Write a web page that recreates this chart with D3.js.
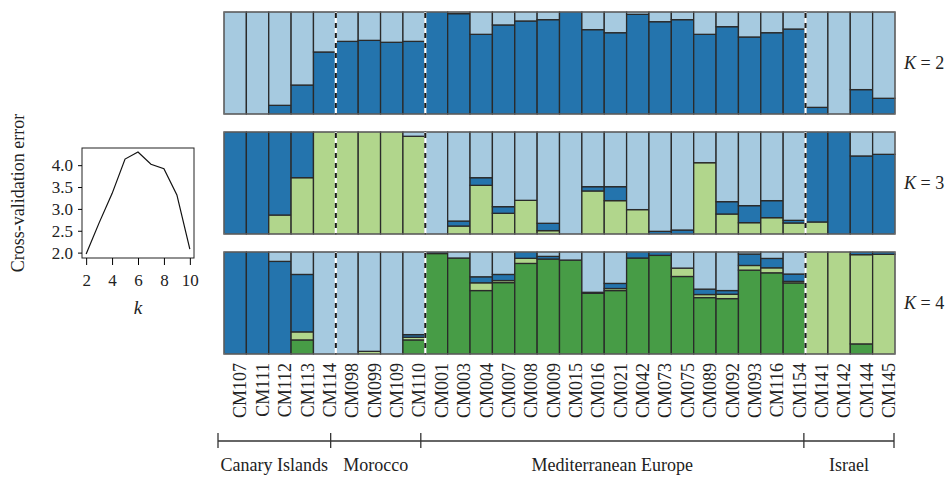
<!DOCTYPE html>
<html>
<head>
<meta charset="utf-8">
<script src="https://cdn.jsdelivr.net/npm/d3@7"></script>
<style>
  body { margin: 0; background: #fff; }
  svg { display: block; font-family: "Liberation Serif", "DejaVu Serif", serif; }
</style>
</head>
<body>
<div id="chart"></div>
<script>
// samples and populations
const samples = ["CM107", "CM111", "CM112", "CM113", "CM114", "CM098", "CM099", "CM109", "CM110",
  "CM001", "CM003", "CM004", "CM007", "CM008", "CM009", "CM015", "CM016", "CM021", "CM042",
  "CM073", "CM075", "CM089", "CM092", "CM093", "CM116", "CM154", "CM141", "CM142", "CM144", "CM145"]
const groups = ["Canary Islands", "Morocco", "Mediterranean Europe", "Israel"]
const groupSizes = [5, 4, 17, 4]

// K = 2 ancestry (bottom -> top)
const k2Blue = [0, 0, 0.085, 0.284, 0.608, 0.712, 0.722, 0.703, 0.712, 1.0, 0.984, 0.781, 0.873, 0.912, 0.925,
  1.0, 0.827, 0.797, 0.977, 0.905, 0.925, 0.781, 0.856, 0.755, 0.797, 0.833, 0.065, 0, 0.239, 0.154]
const k2Light = [1, 1, 0.915, 0.716, 0.392, 0.288, 0.278, 0.297, 0.288, 0, 0.016, 0.219, 0.127, 0.088, 0.075,
  0, 0.173, 0.203, 0.023, 0.095, 0.075, 0.219, 0.144, 0.245, 0.203, 0.167, 0.935, 1, 0.761, 0.846]

// K = 3
const k3Green = [0, 0, 0.186, 0.552, 1, 1, 1, 1, 0.958, 0, 0.078, 0.477, 0.203, 0.330, 0.033,
  0, 0.422, 0.327, 0.239, 0, 0, 0.699, 0.196, 0.111, 0.160, 0.108, 0.118, 0, 0, 0]
const k3Blue = [1, 1, 0.814, 0.448, 0, 0, 0, 0, 0, 0, 0.049, 0.075, 0.065, 0, 0.072,
  0, 0.042, 0.137, 0, 0.026, 0.039, 0, 0.121, 0.167, 0.167, 0.026, 0.882, 1, 0.765, 0.781]
const k3Light = [0, 0, 0, 0, 0, 0, 0, 0, 0.042, 1, 0.873, 0.448, 0.732, 0.670, 0.895,
  1, 0.536, 0.536, 0.761, 0.974, 0.961, 0.301, 0.683, 0.722, 0.673, 0.866, 0, 0, 0.235, 0.219]

// K = 4
const k4DarkGreen = [0, 0, 0, 0.138, 0, 0, 0, 0, 0.138, 0.985, 0.941, 0.622, 0.70, 0.888, 0.931,
  0.921, 0.595, 0.622, 0.941, 0.967, 0.76, 0.553, 0.543, 0.822, 0.796, 0.697, 0, 0, 0.099, 0]
const k4Green = [0, 0, 0, 0.079, 0, 0, 0.026, 0, 0.026, 0, 0, 0.076, 0.02, 0.05, 0,
  0, 0, 0.02, 0, 0, 0.082, 0.03, 0.043, 0.046, 0.049, 0.015, 1, 1, 0.875, 0.977]
const k4Blue = [1, 1, 0.908, 0.563, 0, 0, 0, 0, 0.026, 0.015, 0, 0.059, 0.06, 0.062, 0.026,
  0, 0.01, 0.05, 0.059, 0.033, 0, 0.053, 0.036, 0.112, 0.092, 0.072, 0, 0, 0.026, 0.023]
const k4Light = [0, 0, 0.092, 0.22, 1, 1, 0.974, 1, 0.81, 0, 0.059, 0.243, 0.22, 0, 0.043,
  0.079, 0.395, 0.308, 0, 0, 0.158, 0.364, 0.378, 0.02, 0.063, 0.216, 0, 0, 0, 0]

// cross-validation error
const kValues = [2, 3, 4, 5, 6, 7, 8, 9, 10]
const cvError = [1.97, 2.68, 3.35, 4.14, 4.30, 4.02, 3.92, 3.32, 2.08]
const cvXTicks = [2, 4, 6, 8, 10]
const cvYTicks = [2.0, 2.5, 3.0, 3.5, 4.0]

const colLightBlue = "#a6cae0"
const colBlue = "#2474ad"
const colGreen = "#b1d68c"
const colDarkGreen = "#479c46"

const panels = [
  { label: "2", series: [k2Blue, k2Light], colors: [colBlue, colLightBlue] },
  { label: "3", series: [k3Green, k3Blue, k3Light], colors: [colGreen, colBlue, colLightBlue] },
  { label: "4", series: [k4DarkGreen, k4Green, k4Blue, k4Light], colors: [colDarkGreen, colGreen, colBlue, colLightBlue] }
]

const width = 948
const height = 477
const panelTops = [12, 132, 252]
const panelH = 102

const svg = d3.select("#chart").append("svg")
  .attr("width", width)
  .attr("height", height)

const x = d3.scaleBand()
  .domain(samples)
  .range([224, 895])
  .padding(0)

// group boundaries (bar index)
const bounds = [0]
groupSizes.forEach(s => bounds.push(bounds[bounds.length - 1] + s))

panels.forEach((p, pi) => {
  const top = panelTops[pi]
  const y = d3.scaleLinear().domain([0, 1]).range([top + panelH, top])
  const g = svg.append("g")

  samples.forEach((s, i) => {
    let acc = 0
    p.series.forEach((ser, si) => {
      const v = ser[i]
      if (v <= 0) return
      g.append("rect")
        .attr("x", x(s))
        .attr("y", y(acc + v))
        .attr("width", x.bandwidth())
        .attr("height", y(acc) - y(acc + v))
        .attr("fill", p.colors[si])
        .attr("stroke", "#2a2a2a")
        .attr("stroke-width", 1.3)
      acc += v
    })
  })

  // dashed separators between populations
  bounds.slice(1, -1).forEach(b => {
    const bx = x(samples[b])
    g.append("line")
      .attr("x1", bx).attr("x2", bx)
      .attr("y1", y(1)).attr("y2", y(0))
      .attr("stroke", "#fff")
      .attr("stroke-width", 2.2)
    g.append("line")
      .attr("x1", bx).attr("x2", bx)
      .attr("y1", y(1) + 1).attr("y2", y(0))
      .attr("stroke", "#1a1a1a")
      .attr("stroke-width", 2)
      .attr("stroke-dasharray", "5,5")
  })

  // frame
  g.append("rect")
    .attr("x", x.range()[0])
    .attr("y", y(1))
    .attr("width", x.range()[1] - x.range()[0])
    .attr("height", y(0) - y(1))
    .attr("fill", "none")
    .attr("stroke", "#8a8a8a")
    .attr("stroke-width", 0.8)

  const lab = svg.append("text")
    .attr("x", 904)
    .attr("y", top + panelH / 2)
    .attr("dy", "0.35em")
    .attr("font-size", "18px")
    .attr("fill", "#222")
  lab.append("tspan").attr("font-style", "italic").text("K")
  lab.append("tspan").text(" = " + p.label)
})

// sample labels
const sampleAxis = svg.append("g")
  .attr("transform", `translate(0,${panelTops[2] + panelH})`)
  .call(d3.axisBottom(x).tickSize(0))
sampleAxis.select(".domain").remove()
sampleAxis.selectAll("text")
  .attr("transform", "rotate(-90)")
  .attr("text-anchor", "end")
  .attr("x", -9)
  .attr("y", 5)
  .attr("dy", "0.35em")
  .attr("font-size", "18px")
  .attr("font-family", "Liberation Serif, serif")
  .attr("fill", "#222")

// population bracket
const bx = d3.scaleLinear().domain([0, samples.length]).range([218, 894])
const bracketY = 441
svg.append("line")
  .attr("x1", bx(0)).attr("x2", bx(samples.length))
  .attr("y1", bracketY).attr("y2", bracketY)
  .attr("stroke", "#333").attr("stroke-width", 1.3)
bounds.forEach(b => {
  svg.append("line")
    .attr("x1", bx(b)).attr("x2", bx(b))
    .attr("y1", bracketY - 8).attr("y2", bracketY + 7)
    .attr("stroke", "#333").attr("stroke-width", 1.3)
})
groups.forEach((name, i) => {
  svg.append("text")
    .attr("x", (bx(bounds[i]) + bx(bounds[i + 1])) / 2)
    .attr("y", 471)
    .attr("text-anchor", "middle")
    .attr("font-size", "18px")
    .attr("fill", "#222")
    .text(name)
})

// cross-validation error plot
const cx = d3.scaleLinear().domain([1.68, 10.32]).range([82, 194])
const cy = d3.scaleLinear().domain([1.877, 4.393]).range([258, 148])

const cvG = svg.append("g")

cvG.append("path")
  .datum(kValues.map((k, i) => [k, cvError[i]]))
  .attr("fill", "none")
  .attr("stroke", "#111")
  .attr("stroke-width", 1.2)
  .attr("d", d3.line().x(d => cx(d[0])).y(d => cy(d[1])))

cvG.append("rect")
  .attr("x", cx.range()[0])
  .attr("y", cy.range()[1])
  .attr("width", cx.range()[1] - cx.range()[0])
  .attr("height", cy.range()[0] - cy.range()[1])
  .attr("fill", "none")
  .attr("stroke", "#222")
  .attr("stroke-width", 1)

const xAx = cvG.append("g")
  .attr("transform", `translate(0,${cy.range()[0]})`)
  .call(d3.axisBottom(cx).tickValues(cvXTicks).tickFormat(d3.format("d")).tickSize(7).tickPadding(9))
xAx.select(".domain").remove()
xAx.selectAll("text").attr("font-size", "17px").attr("font-family", "Liberation Serif, serif").attr("fill", "#222")

const yAx = cvG.append("g")
  .attr("transform", `translate(${cx.range()[0]},0)`)
  .call(d3.axisLeft(cy).tickValues(cvYTicks).tickFormat(d3.format(".1f")).tickSize(4).tickPadding(5))
yAx.select(".domain").remove()
yAx.selectAll("text").attr("font-size", "17px").attr("font-family", "Liberation Serif, serif").attr("fill", "#222")

cvG.append("text")
  .attr("x", 138)
  .attr("y", 314)
  .attr("text-anchor", "middle")
  .attr("font-size", "19px")
  .attr("font-style", "italic")
  .attr("fill", "#222")
  .text("k")

cvG.append("text")
  .attr("transform", "translate(18,193) rotate(-90)")
  .attr("text-anchor", "middle")
  .attr("dy", "0.35em")
  .attr("font-size", "18px")
  .attr("fill", "#222")
  .text("Cross-validation error")
</script>
</body>
</html>
